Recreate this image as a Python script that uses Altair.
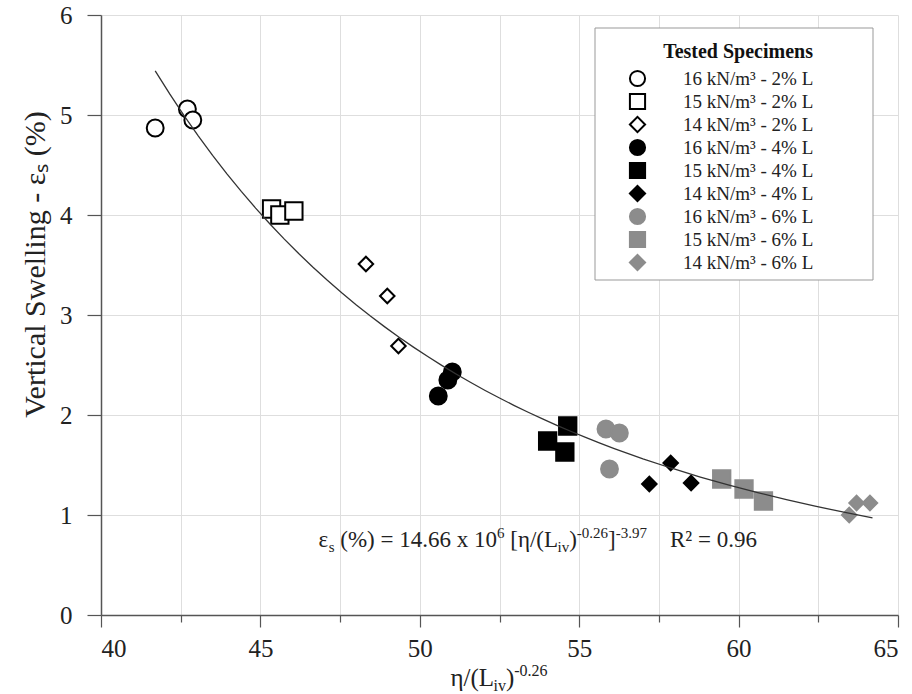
import altair as alt
import pandas as pd

# ---- data ----
SERIES = ["16 kN/m³ - 2% L", "15 kN/m³ - 2% L", "14 kN/m³ - 2% L",
          "16 kN/m³ - 4% L", "15 kN/m³ - 4% L", "14 kN/m³ - 4% L",
          "16 kN/m³ - 6% L", "15 kN/m³ - 6% L", "14 kN/m³ - 6% L"]

eta_16_2 = [41.70, 42.71, 42.88]
sw_16_2 = [4.87, 5.06, 4.95]
eta_15_2 = [45.35, 45.61, 46.05]
sw_15_2 = [4.06, 4.00, 4.04]
eta_14_2 = [48.31, 48.98, 49.33]
sw_14_2 = [3.51, 3.19, 2.69]
eta_16_4 = [50.58, 50.88, 51.02]
sw_16_4 = [2.19, 2.35, 2.43]
eta_15_4 = [54.64, 54.01, 54.55]
sw_15_4 = [1.89, 1.74, 1.63]
eta_14_4 = [57.87, 57.20, 58.51]
sw_14_4 = [1.52, 1.31, 1.32]
eta_16_6 = [55.84, 56.26, 55.95]
sw_16_6 = [1.86, 1.82, 1.46]
eta_15_6 = [59.47, 60.17, 60.78]
sw_15_6 = [1.36, 1.26, 1.14]
eta_14_6 = [63.47, 63.70, 64.12]
sw_14_6 = [1.00, 1.12, 1.12]

ETAS = [eta_16_2, eta_15_2, eta_14_2, eta_16_4, eta_15_4, eta_14_4, eta_16_6, eta_15_6, eta_14_6]
SWS = [sw_16_2, sw_15_2, sw_14_2, sw_16_4, sw_15_4, sw_14_4, sw_16_6, sw_15_6, sw_14_6]

X_TICKS = [40, 42.5, 45, 47.5, 50, 52.5, 55, 57.5, 60, 62.5, 65]
Y_TICKS = [0, 0.5, 1, 1.5, 2, 2.5, 3, 3.5, 4, 4.5, 5, 5.5, 6]

FIT_EXTENT = [41.7, 64.2]
# equation pieces: (text, kind) where kind is normal / sub / sup
EQ_PARTS = [("ε", "n"), ("s", "sub"), (" (%) = 14.66 x 10", "n"), ("6", "sup"),
            (" [η/(L", "n"), ("iv", "sub"), (")", "n"), ("-0.26", "sup"),
            ("]", "n"), ("-3.97", "sup"), ("    R² = 0.96", "n")]
EQ_X = [53.7]
EQ_Y = [0.68]
XTITLE_PARTS = [("η/(L", "n"), ("iv", "sub"), (")", "n"), ("-0.26", "sup")]
YTITLE = "Vertical Swelling - εₛ (%)"

# ---- styles / layout ----
GRAY = "#8c8c8c"
KINDS = ["circle", "square", "diamond"] * 3
FILLS = ["white"] * 3 + ["black"] * 3 + [GRAY] * 3
STROKES = ["black"] * 6 + [GRAY] * 3
KIND_SIZE = {"circle": 285, "square": 300, "diamond": 210}
SERIF = "Liberation Serif"
LEGEND_BOX = {"x": 494, "x2": 772, "y": 13, "y2": 265}  # pixel frame behind the legend

# approximate Times advance widths (em) for laying out rich text pieces
TIMES = {' ': .25, '(': .333, ')': .333, '%': .833, '=': .564, 'x': .5, '.': .25,
         '[': .333, ']': .333, '/': .278, 'L': .611, 'R': .667, '²': .3, '-': .333,
         'i': .278, 'v': .5, 's': .389, 'η': .5, 'ε': .44}


def tw(text, size):
    return sum(TIMES.get(c, .5) for c in text) * size


def rich_layers(parts, main, small, sub_dy, sup_dy, make_chart):
    sizes = [main if k == "n" else small for _, k in parts]
    total = sum(tw(t, s) for (t, _), s in zip(parts, sizes))
    acc = -total / 2
    layers = []
    for (t, k), s in zip(parts, sizes):
        lead = len(t) - len(t.lstrip(" "))
        shown = t.strip(" ")
        dx = acc + tw(" " * lead, s)
        dy = 0 if k == "n" else (sub_dy if k == "sub" else sup_dy)
        layers.append(make_chart(shown).mark_text(
            align="left", baseline="alphabetic", font=SERIF, fontSize=s,
            color="#222", dx=dx, dy=dy))
        acc += tw(t, s)
    return layers


rows = []
for s, kd, ex, sy in zip(SERIES, KINDS, ETAS, SWS):
    for a, b in zip(ex, sy):
        rows.append({"series": s, "kind": kd, "eta": a, "swell": b})
df = pd.DataFrame(rows)

leg = alt.Legend(
    title="Tested Specimens", orient="none", legendX=494, legendY=16,
    padding=11,
    symbolSize=230, symbolStrokeWidth=2, symbolOffset=22, labelOffset=36,
    labelFont=SERIF, labelFontSize=19, labelColor="#222",
    titleFont=SERIF, titleFontSize=20, titleFontWeight="bold", titleColor="#111",
    titleAnchor="end", titlePadding=7, rowPadding=-2,
)

xscale = alt.Scale(domain=[40, 65], nice=False, zero=False)
yscale = alt.Scale(domain=[0, 6], nice=False)

xaxis = alt.Axis(
    title="", values=X_TICKS,
    labelExpr="datum.value % 5 === 0 ? datum.label : ''",
    format="d", labelFont=SERIF, labelFontSize=25, labelColor="#222",
    labelPadding=9,
    tickSize={"condition": {"test": "datum.value % 5 === 0", "value": 12}, "value": 7},
)
yaxis = alt.Axis(
    title=YTITLE, values=Y_TICKS,
    labelExpr="datum.value % 1 === 0 ? datum.label : ''",
    format="d", labelFont=SERIF, labelFontSize=25, labelColor="#222",
    labelPadding=15,
    tickSize={"condition": {"test": "datum.value % 1 === 0", "value": 14}, "value": 7},
    titleFont=SERIF, titleFontSize=30, titleFontWeight="normal", titleColor="#222",
    titleX=-66, titleY=249, titleBaseline="middle", titleAlign="center", titleAngle=270,
)

base = alt.Chart(df)

legend_frame = alt.Chart(pd.DataFrame({"a": [0]})).mark_rect(
    fill="white", stroke="#999", strokeWidth=1
).encode(
    x=alt.value(LEGEND_BOX["x"]), x2=alt.value(LEGEND_BOX["x2"]),
    y=alt.value(LEGEND_BOX["y"]), y2=alt.value(LEGEND_BOX["y2"]),
)

point_layers = []
for kind in ["circle", "square", "diamond"]:
    point_layers.append(
        base.transform_filter(alt.datum.kind == kind).mark_point(
            filled=True, opacity=1, strokeWidth=2, size=KIND_SIZE[kind]
        ).encode(
            x=alt.X("eta:Q", scale=xscale, axis=xaxis),
            y=alt.Y("swell:Q", scale=yscale, axis=yaxis),
            shape=alt.Shape("series:N", scale=alt.Scale(domain=SERIES, range=KINDS), legend=leg),
            fill=alt.Fill("series:N", scale=alt.Scale(domain=SERIES, range=FILLS), legend=leg),
            stroke=alt.Stroke("series:N", scale=alt.Scale(domain=SERIES, range=STROKES), legend=leg),
        )
    )

fit = base.transform_regression(
    "eta", "swell", method="pow", extent=FIT_EXTENT
).mark_line(color="#333", strokeWidth=1.3).encode(
    x="eta:Q", y="swell:Q"
)


def eq_chart(txt):
    return alt.Chart(pd.DataFrame({"x": EQ_X, "y": EQ_Y, "t": [txt]})).encode(
        x="x:Q", y="y:Q", text="t:N")


def xt_chart(txt):
    return alt.Chart(pd.DataFrame({"t": [txt]})).encode(
        x=alt.value(398), y=alt.value(671), text="t:N")


eq_layers = rich_layers(EQ_PARTS, 23, 15, 5, -9, eq_chart)
xt_layers = rich_layers(XTITLE_PARTS, 25, 16, 5, -10, xt_chart)

chart = alt.layer(*point_layers, legend_frame, fit, *eq_layers, *xt_layers).properties(
    width=797, height=600,
    autosize=alt.AutoSizeParams(type="none"),
    padding={"left": 101, "top": 15, "right": 14, "bottom": 79},
    background="white",
).configure_view(stroke=None).configure_axis(
    domainColor="#555", domainWidth=1.5, tickColor="#555", tickWidth=1.2,
    gridColor="#dedede", gridWidth=1, labelFont=SERIF, labelFontSize=25,
)

chart.save("out.html", embed_options={"renderer": "svg", "actions": False})
